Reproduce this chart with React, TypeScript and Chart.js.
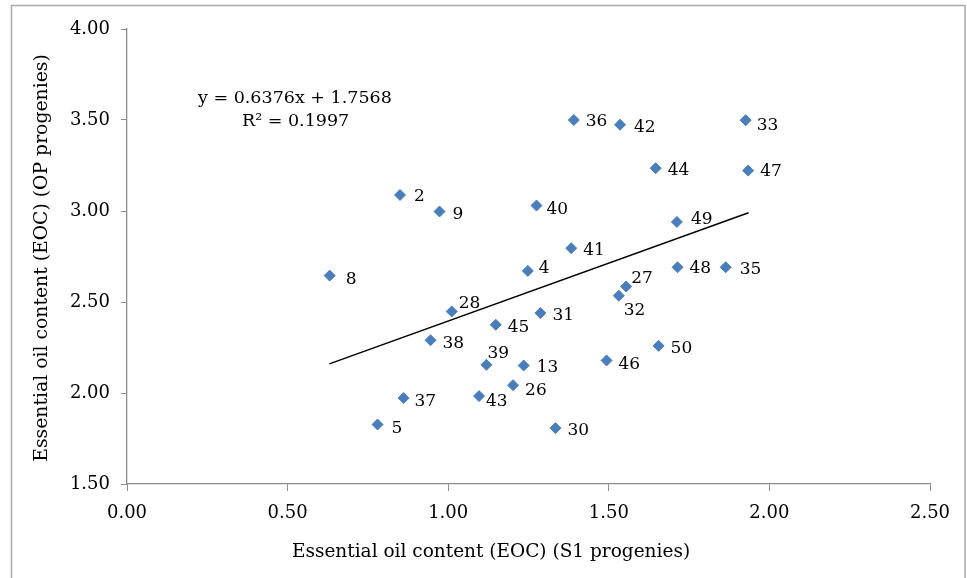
import React, { useEffect, useRef } from "react";
import { Chart, registerables } from "chart.js";

Chart.register(...registerables);

// ---- data ----
const progenyLabels = ["2", "4", "5", "8", "9", "13", "26", "27", "28", "30", "31", "32", "33", "35", "36", "37", "38", "39", "40", "41", "42", "43", "44", "45", "46", "47", "48", "49", "50"];
const s1Values = [0.85, 1.248, 0.78, 0.631, 0.973, 1.235, 1.202, 1.554, 1.011, 1.334, 1.287, 1.531, 1.926, 1.864, 1.391, 0.861, 0.945, 1.119, 1.275, 1.383, 1.535, 1.096, 1.646, 1.148, 1.493, 1.934, 1.714, 1.712, 1.655];
const opValues = [3.088, 2.671, 1.827, 2.645, 2.997, 2.151, 2.043, 2.585, 2.448, 1.807, 2.439, 2.535, 3.499, 2.691, 3.5, 1.972, 2.29, 2.155, 3.03, 2.796, 3.474, 1.983, 3.235, 2.375, 2.179, 3.222, 2.691, 2.94, 2.259];
const trendX = [0.63, 1.935];
const trendY = [2.16, 2.99];
const equationText = "y = 0.6376x + 1.7568";
const r2Text = "R\u00B2 = 0.1997";
const xTitle = "Essential oil content (EOC) (S1 progenies)";
const yTitle = "Essential oil content (EOC) (OP progenies)";

// label placement (style only): pixel offsets from the marker
const labelOffsets: Record<string, [number, number]> = {
  "2": [14, 0], "4": [11, -4], "5": [14, 2], "8": [16, 2], "9": [13, 1],
  "13": [13, 0], "26": [12, 4], "27": [5, -10], "28": [7, -10], "30": [12, 1],
  "31": [12, 1], "32": [5, 13], "33": [11, 4], "35": [14, 1], "36": [12, 0],
  "37": [11, 2], "38": [12, 2], "39": [1, -13], "40": [10, 2], "41": [12, 1],
  "42": [14, 1], "43": [7, 4], "44": [12, 1], "45": [12, 1], "46": [12, 2],
  "47": [12, -1], "48": [12, 0], "49": [14, -4], "50": [12, 1],
};

const FONT = "'DejaVu Serif', serif";

const overlayPlugin = {
  id: "overlay",
  afterDraw(chart: any) {
    const ctx = chart.ctx as CanvasRenderingContext2D;
    ctx.save();
    // outer frame
    ctx.strokeStyle = "#a9a9a9";
    ctx.lineWidth = 1.5;
    ctx.strokeRect(11.5, 5.5, 953.5, 600);

    // point labels
    ctx.fillStyle = "#000";
    const lsize = 17;
    ctx.font = `${lsize}px ${FONT}`;
    ctx.textAlign = "left";
    ctx.textBaseline = "alphabetic";
    const meta = chart.getDatasetMeta(0);
    meta.data.forEach((pt: any, i: number) => {
      const lab = progenyLabels[i];
      const off = labelOffsets[lab] || [12, 1];
      ctx.fillText(lab, pt.x + off[0], pt.y + off[1] + lsize * 0.365);
    });

    // equation
    const esize = 17.5;
    ctx.font = `${esize}px ${FONT}`;
    ctx.fillText(equationText, 198, 97 + esize * 0.365);
    ctx.fillText(r2Text, 242, 120 + esize * 0.365);

    // axis titles
    ctx.textAlign = "center";
    ctx.textBaseline = "middle";
    ctx.font = `18.5px ${FONT}`;
    ctx.fillText(xTitle, 491, 552);
    ctx.font = `18.8px ${FONT}`;
    ctx.translate(42, 258);
    ctx.rotate(-Math.PI / 2);
    ctx.fillText(yTitle, 0, 0);
    ctx.restore();
  },
};

export default function App() {
  const ref = useRef<HTMLCanvasElement | null>(null);
  useEffect(() => {
    if (!ref.current) return;
    const points = s1Values.map((x, i) => ({ x, y: opValues[i] }));
    const trend = trendX.map((x, i) => ({ x, y: trendY[i] }));
    const chart = new Chart(ref.current, {
      type: "scatter",
      data: {
        datasets: [
          {
            label: "EOC",
            data: points,
            pointStyle: "rectRot",
            pointRadius: 5.5,
            backgroundColor: "#4a7ebb",
            borderColor: "#4a7ebb",
            borderWidth: 1,
            order: 1,
          },
          {
            type: "line",
            label: "Linear",
            data: trend,
            borderColor: "#000",
            borderWidth: 1.5,
            pointRadius: 0,
            fill: false,
            order: 2,
          } as any,
        ],
      },
      options: {
        animation: false,
        responsive: false,
        maintainAspectRatio: false,
        layout: { padding: { left: 0, top: 29, right: 37, bottom: 0 } },
        plugins: { legend: { display: false }, tooltip: { enabled: false } },
        scales: {
          x: {
            type: "linear",
            min: 0,
            max: 2.5,
            ticks: {
              stepSize: 0.5,
              color: "#000",
              padding: 12,
              font: { family: FONT, size: 18 },
              callback: (v: any) => Number(v).toFixed(2),
            },
            grid: { drawOnChartArea: false, tickLength: 7, color: "#8c8c8c" },
            border: { color: "#8c8c8c", width: 1.3 },
            afterFit: (s: any) => { s.height = 94; },
          },
          y: {
            type: "linear",
            min: 1.5,
            max: 4,
            ticks: {
              stepSize: 0.5,
              color: "#000",
              padding: 11,
              font: { family: FONT, size: 18 },
              callback: (v: any) => Number(v).toFixed(2),
            },
            grid: { drawOnChartArea: false, tickLength: 6, color: "#8c8c8c" },
            border: { color: "#8c8c8c", width: 1.3 },
            afterFit: (s: any) => { s.width = 127; },
          },
        },
      },
      plugins: [overlayPlugin],
    });
    return () => chart.destroy();
  }, []);
  return (
    <div style={{ position: "absolute", left: 0, top: 0, width: 967, height: 578, background: "#fff" }}>
      <canvas ref={ref} width={967} height={578} style={{ width: 967, height: 578 }} />
    </div>
  );
}
